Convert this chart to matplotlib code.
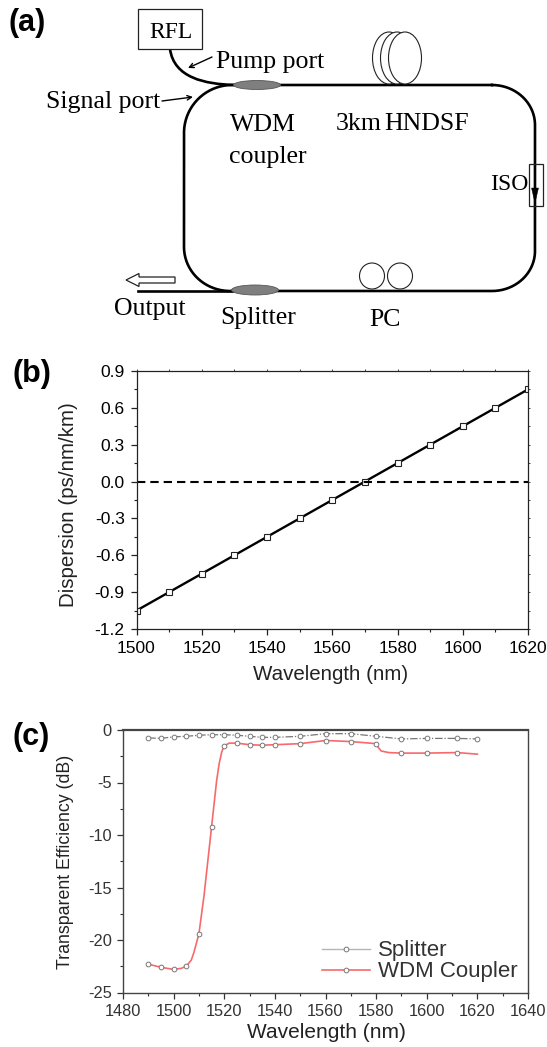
import numpy as np
import matplotlib
matplotlib.use('Agg')
import matplotlib.pyplot as plt
from matplotlib.patches import Ellipse, Rectangle, FancyArrow, PathPatch
from matplotlib.path import Path
from matplotlib.ticker import MultipleLocator

plt.rcParams['font.family'] = ['Liberation Sans', 'DejaVu Sans']
plt.rcParams['axes.unicode_minus'] = False

W, H = 547, 1047

# panel (b)
disp_wl = [1500, 1510, 1520, 1530, 1540, 1550, 1560, 1570, 1580, 1590, 1600, 1610, 1620]
disp_val = [-1.05, -0.90, -0.75, -0.60, -0.45, -0.30, -0.15, 0.0, 0.15, 0.30, 0.45, 0.60, 0.75]

# panel (c), measured points with markers
split_wl = [1490, 1495, 1500, 1505, 1510, 1515, 1520, 1525, 1530, 1535, 1540, 1550, 1560, 1570, 1580, 1590, 1600, 1612, 1620]
split_val = [-0.75, -0.8, -0.65, -0.6, -0.5, -0.45, -0.45, -0.5, -0.6, -0.7, -0.7, -0.6, -0.35, -0.35, -0.6, -0.85, -0.8, -0.8, -0.85]
wdm_wl = [1490, 1495, 1500, 1505, 1510, 1515, 1520, 1525, 1530, 1535, 1540, 1550, 1560, 1570, 1580, 1590, 1600, 1612]
wdm_val = [-22.3, -22.6, -22.8, -22.5, -19.4, -9.2, -1.5, -1.25, -1.4, -1.45, -1.4, -1.3, -1.0, -1.1, -1.3, -2.2, -2.2, -2.2]

# panel (c), the red curve read in finer steps
wdm_curve_wl = [1490, 1495, 1500, 1503, 1505, 1507, 1508, 1510, 1512, 1515, 1517, 1518, 1519, 1520, 1522, 1525, 1530, 1535, 1540, 1550, 1560, 1570, 1580, 1581, 1582, 1585, 1590, 1600, 1612, 1620]
wdm_curve_val = [-22.3, -22.6, -22.8, -22.7, -22.5, -21.9, -21.2, -19.4, -15.8, -9.2, -4.8, -3.2, -2.1, -1.5, -1.25, -1.25, -1.4, -1.45, -1.4, -1.3, -1.0, -1.1, -1.3, -1.7, -2.0, -2.15, -2.2, -2.2, -2.15, -2.3]

x_ticks_b = [1500, 1520, 1540, 1560, 1580, 1600, 1620]
y_ticks_b = [-1.2, -0.9, -0.6, -0.3, 0.0, 0.3, 0.6, 0.9]
x_ticks_c = [1480, 1500, 1520, 1540, 1560, 1580, 1600, 1620, 1640]
y_ticks_c = [-25, -20, -15, -10, -5, 0]


def axes_px(fig, left, top, right, bottom):
    """Make axes from pixel edges, measured from the top left."""
    return fig.add_axes([left / W, 1 - bottom / H, (right - left) / W, (bottom - top) / H])


def rounded_loop(left, top, right, bottom, rx, ry):
    """Points of the fibre ring, with a separate radius on each corner."""
    corners = [
        (right - rx[0], top + ry[0], rx[0], ry[0], -90, 0),
        (right - rx[1], bottom - ry[1], rx[1], ry[1], 0, 90),
        (left + rx[2], bottom - ry[2], rx[2], ry[2], 90, 180),
        (left + rx[3], top + ry[3], rx[3], ry[3], 180, 270),
    ]
    pts = []
    for cx, cy, a, b, t0, t1 in corners:
        t = np.radians(np.linspace(t0, t1, 40))
        pts.append(np.column_stack([cx + a * np.cos(t), cy + b * np.sin(t)]))
    pts = np.vstack(pts)
    return np.vstack([pts, pts[:1]])


def draw_setup(ax):
    """Panel (a), the fibre ring laser setup, in pixel coordinates."""
    serif = ['Liberation Serif', 'DejaVu Serif']
    fs = 18.6

    loop = rounded_loop(184, 85, 535, 291, [43, 43, 46, 48], [40, 40, 44, 48])
    ax.plot(loop[:, 0], loop[:, 1], color='black', lw=1.9)
    ax.plot([138, 232], [291, 291], color='black', lw=1.9)

    # pump fibre from the RFL
    pump = Path([(170, 49), (174, 78), (205, 84), (234, 85)],
                [Path.MOVETO, Path.CURVE4, Path.CURVE4, Path.CURVE4])
    ax.add_patch(PathPatch(pump, fc='none', ec='black', lw=1.9))

    ax.add_patch(Rectangle((138, 9), 64, 40, fc='white', ec='#222222', lw=0.9))
    ax.add_patch(Ellipse((257, 85), 47, 9, fc='#7f7f7f', ec='#555555', lw=0.6, zorder=3))
    ax.add_patch(Ellipse((255, 290), 47, 10, fc='#7f7f7f', ec='#555555', lw=0.6, zorder=3))

    # spool
    for cx in [389, 397, 405]:
        ax.add_patch(Ellipse((cx, 58), 33, 52, fc='white', ec='#222222', lw=0.8, zorder=3))

    # polarization controller
    for cx in [372, 400]:
        ax.add_patch(Ellipse((cx, 276), 25, 26, fc='white', ec='#222222', lw=0.8, zorder=3))

    # isolator
    ax.add_patch(Rectangle((529, 164), 14, 42, fc='none', ec='#222222', lw=0.9, zorder=3))
    ax.add_patch(FancyArrow(535, 170, 0, 33, width=1.5, head_width=7, head_length=15,
                            length_includes_head=True, fc='black', ec='black', lw=0.3, zorder=4))

    # output arrow
    ax.add_patch(FancyArrow(175, 280, -49, 0, width=6, head_width=13, head_length=13,
                            length_includes_head=True, fc='white', ec='#222222', lw=0.9))

    # port arrows
    for start, end in [((212, 57), (188, 68)), ((162, 101), (193, 97))]:
        ax.annotate('', xy=end, xytext=start,
                    arrowprops=dict(arrowstyle='->', color='black', lw=1.0, shrinkA=0, shrinkB=0,
                                    mutation_scale=8))

    labels = [('RFL', 149, 33), ('Pump port', 216, 62), ('Signal port', 46, 102),
              ('WDM', 230, 125), ('coupler', 229, 157), ('3km', 336, 124), ('HNDSF', 384, 124),
              ('ISO', 490, 184), ('Output', 114, 309), ('Splitter', 220, 318), ('PC', 369, 320)]
    for s, x, y in labels:
        size = 17 if s in ('RFL', 'ISO') else fs
        ax.text(x, y, s, family=serif, fontsize=size, ha='left', va='center', zorder=5)


def style_frame(ax, color, lw):
    for spine in ax.spines.values():
        spine.set_color(color)
        spine.set_linewidth(lw)


fig = plt.figure(figsize=(W / 100, H / 100), dpi=100, facecolor='white')

canvas = fig.add_axes([0, 0, 1, 1])
canvas.set_xlim(0, W)
canvas.set_ylim(H, 0)
canvas.axis('off')

draw_setup(canvas)

canvas.text(9, 23, '(a)', fontsize=22, fontweight='bold', ha='left', va='center')
canvas.text(12, 374, '(b)', fontsize=22, fontweight='bold', ha='left', va='center')
canvas.text(12, 737, '(c)', fontsize=22, fontweight='bold', ha='left', va='center')

# panel (b)
ax_b = axes_px(fig, 136.5, 371, 528, 629)
ax_b.plot(disp_wl, disp_val, color='black', lw=1.7, marker='s', ms=4.6,
          mfc='white', mec='#222222', mew=0.8)
ax_b.axhline(0, color='black', lw=1.5, ls=(0, (4, 2.4)))
ax_b.set_xlim(1500, 1620)
ax_b.set_ylim(-1.2, 0.9)
ax_b.set_xticks(x_ticks_b)
ax_b.set_yticks(y_ticks_b)
ax_b.set_yticklabels([f'{v:.1f}' for v in y_ticks_b])
ax_b.xaxis.set_minor_locator(MultipleLocator(10))
ax_b.yaxis.set_minor_locator(MultipleLocator(0.15))
ax_b.tick_params(which='major', length=4.5, width=0.9, labelsize=12.5, pad=4, color='#222222')
ax_b.tick_params(which='minor', length=2.5, width=0.8, color='#222222')
style_frame(ax_b, '#222222', 0.9)
ax_b.set_xlabel('Wavelength (nm)', fontsize=14.8, va='center', color='#222222')
ax_b.set_ylabel('Dispersion (ps/nm/km)', fontsize=14.8, va='center', color='#222222')
ax_b.xaxis.set_label_coords(331, 675, transform=canvas.transData)
ax_b.yaxis.set_label_coords(68, 505, transform=canvas.transData)

# tiny tick marks on the top and right edges of (b)
top_b = ax_b.secondary_xaxis('top')
top_b.set_xticks(disp_wl)
top_b.tick_params(length=1.5, width=0.7, labeltop=False, color='#444444')
top_b.spines['top'].set_visible(False)
right_b = ax_b.secondary_yaxis('right')
right_b.set_yticks(np.arange(-8, 7) * 0.15)
right_b.tick_params(length=1.5, width=0.7, labelright=False, color='#444444')
right_b.spines['right'].set_visible(False)

# panel (c)
ax_c = axes_px(fig, 123, 730, 528, 992.5)
ax_c.plot(split_wl, split_val, color='#777777', lw=0.9, ls=(0, (6, 1.5, 1, 1.5)), zorder=2)
ax_c.plot(wdm_curve_wl, wdm_curve_val, color='#f8696b', lw=1.2, zorder=2)
ax_c.plot(split_wl, split_val, ls='none', marker='o', ms=3.4, mfc='white', mec='#777777', mew=0.7, zorder=3)
ax_c.plot(wdm_wl, wdm_val, ls='none', marker='o', ms=3.4, mfc='white', mec='#777777', mew=0.7, zorder=3)
ax_c.plot([], [], color='#b5b5b5', lw=1.0, marker='o', ms=3.4, mfc='white', mec='#777777', mew=0.7, label='Splitter')
ax_c.plot([], [], color='#f8696b', lw=1.2, marker='o', ms=3.4, mfc='white', mec='#777777', mew=0.7, label='WDM Coupler')
ax_c.set_xlim(1480, 1640)
ax_c.set_ylim(-25, 0)
ax_c.set_xticks(x_ticks_c)
ax_c.set_yticks(y_ticks_c)
ax_c.xaxis.set_minor_locator(MultipleLocator(10))
ax_c.yaxis.set_minor_locator(MultipleLocator(2.5))
ax_c.tick_params(which='major', length=4, width=0.9, labelsize=11.8, pad=4, color='#333333', labelcolor='#333333')
ax_c.tick_params(which='minor', length=2.5, width=0.8, color='#333333')
style_frame(ax_c, '#444444', 1.0)
ax_c.spines['top'].set_linewidth(1.6)
ax_c.set_xlabel('Wavelength (nm)', fontsize=15, va='center', color='#222222')
ax_c.set_ylabel('Transparent Efficiency (dB)', fontsize=12.8, va='center', color='#222222')
ax_c.xaxis.set_label_coords(326, 1033, transform=canvas.transData)
ax_c.yaxis.set_label_coords(66, 862, transform=canvas.transData)
ax_c.legend(loc='lower left', bbox_to_anchor=(0.443, -0.038), frameon=False, fontsize=16,
            handlelength=2.15, handletextpad=0.35, labelspacing=0.0, labelcolor='#333333', numpoints=1)

fig.savefig('out.png', dpi=100, facecolor='white')
